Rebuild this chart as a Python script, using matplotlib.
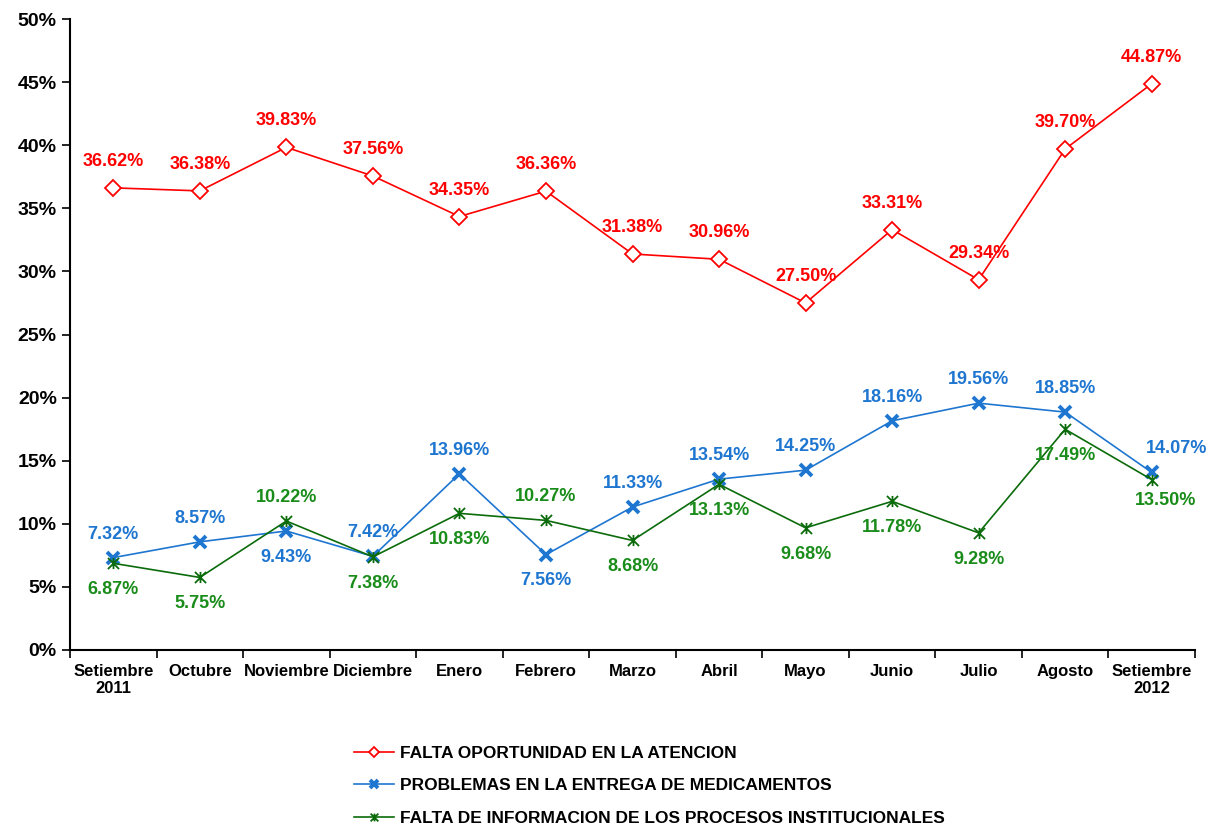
import numpy as np
import matplotlib.pyplot as plt
from matplotlib.path import Path
from matplotlib.ticker import FuncFormatter, FixedLocator

plt.rcParams['font.family'] = ['Liberation Sans', 'DejaVu Sans']
plt.rcParams['font.weight'] = 'bold'

meses = ["Setiembre\n2011", "Octubre", "Noviembre", "Diciembre", "Enero", "Febrero",
         "Marzo", "Abril", "Mayo", "Junio", "Julio", "Agosto", "Setiembre\n2012"]

oportunidad = [36.62, 36.38, 39.83, 37.56, 34.35, 36.36, 31.38, 30.96, 27.50, 33.31, 29.34, 39.70, 44.87]
medicamentos = [7.32, 8.57, 9.43, 7.42, 13.96, 7.56, 11.33, 13.54, 14.25, 18.16, 19.56, 18.85, 14.07]
informacion = [6.87, 5.75, 10.22, 7.38, 10.83, 10.27, 8.68, 13.13, 9.68, 11.78, 9.28, 17.49, 13.50]

# label placement: a=above, b=below, r=right-above, s=right-below
pos_med = ['a', 'a', 'b', 'a', 'a', 'b', 'a', 'a', 'a', 'a', 'a', 'a', 'r']
pos_inf = ['b', 'b', 'a', 'b', 'b', 'a', 'b', 'b', 'b', 'b', 'b', 'b', 's']

nombres = ["FALTA OPORTUNIDAD EN LA ATENCION",
           "PROBLEMAS EN LA ENTREGA DE MEDICAMENTOS",
           "FALTA DE INFORMACION DE LOS PROCESOS INSTITUCIONALES"]

RED, BLUE, GREEN_L, GREEN_T = '#FF0000', '#1E76D0', '#0B6B0B', '#1A8C1A'

# excel-style star: an x with a vertical stroke
star = Path([(-1, -1), (1, 1), (-1, 1), (1, -1), (0, -1), (0, 1)],
            [Path.MOVETO, Path.LINETO, Path.MOVETO, Path.LINETO, Path.MOVETO, Path.LINETO])

fig = plt.figure(figsize=(12.12, 8.26), dpi=100)
ax = fig.add_axes([70/1212, 1-650/826, 1125/1212, 631/826])

x = np.arange(len(meses))
ax.plot(x, oportunidad, color=RED, lw=1.2, marker='D', ms=8, mfc='white', mec=RED, mew=1.3,
        label=nombres[0], zorder=3)
ax.plot(x, medicamentos, color=BLUE, lw=1.2, marker='x', ms=8, mew=2.8, mec=BLUE,
        label=nombres[1], zorder=3)
ax.plot(x, informacion, color=GREEN_L, lw=1.2, marker=star, ms=8, mew=1.3, mec=GREEN_L,
        label=nombres[2], zorder=3)

for i, v in enumerate(oportunidad):
    ax.annotate(f"{v:.2f}%", (x[i], v), xytext=(0, 19), textcoords='offset points',
                ha='center', va='center', color=RED, fontsize=13, fontweight='bold')

offs = {'a': (0, 17), 'b': (0, -19), 'r': (18, 17), 's': (10, -15)}
for vals, posl, col in [(medicamentos, pos_med, BLUE), (informacion, pos_inf, GREEN_T)]:
    for i, v in enumerate(vals):
        dx, dy = offs[posl[i]]
        ax.annotate(f"{v:.2f}%", (x[i], v), xytext=(dx, dy), textcoords='offset points',
                    ha='center', va='center', color=col, fontsize=13, fontweight='bold')

ax.set_xlim(-0.5, len(meses) - 0.5)
ax.set_ylim(0, 50)
ax.set_yticks(np.arange(0, 51, 5))
ax.yaxis.set_major_formatter(FuncFormatter(lambda v, p: f"{v:.0f}%"))
ax.set_xticks(x)
ax.set_xticklabels(meses, fontsize=12, fontweight='bold')
ax.xaxis.set_minor_locator(FixedLocator(np.arange(-0.5, len(meses), 1)))
ax.tick_params(axis='x', which='major', length=0, pad=10)
ax.tick_params(axis='x', which='minor', length=6, width=1.2, direction='out')
ax.tick_params(axis='y', length=6, width=1.2, direction='out', labelsize=14)
for lab in ax.get_yticklabels():
    lab.set_fontweight('bold')

for s in ['top', 'right']:
    ax.spines[s].set_visible(False)
ax.spines['left'].set_linewidth(1.5)
ax.spines['bottom'].set_linewidth(1.5)

leg = fig.legend(loc='upper left', bbox_to_anchor=(338/1212, 1-730/826), frameon=False,
                 fontsize=12.5, handlelength=2.3, labelspacing=1.0, handletextpad=0.35,
                 markerscale=0.7)
for t in leg.get_texts():
    t.set_fontweight('bold')

fig.savefig('out.png', dpi=100)
